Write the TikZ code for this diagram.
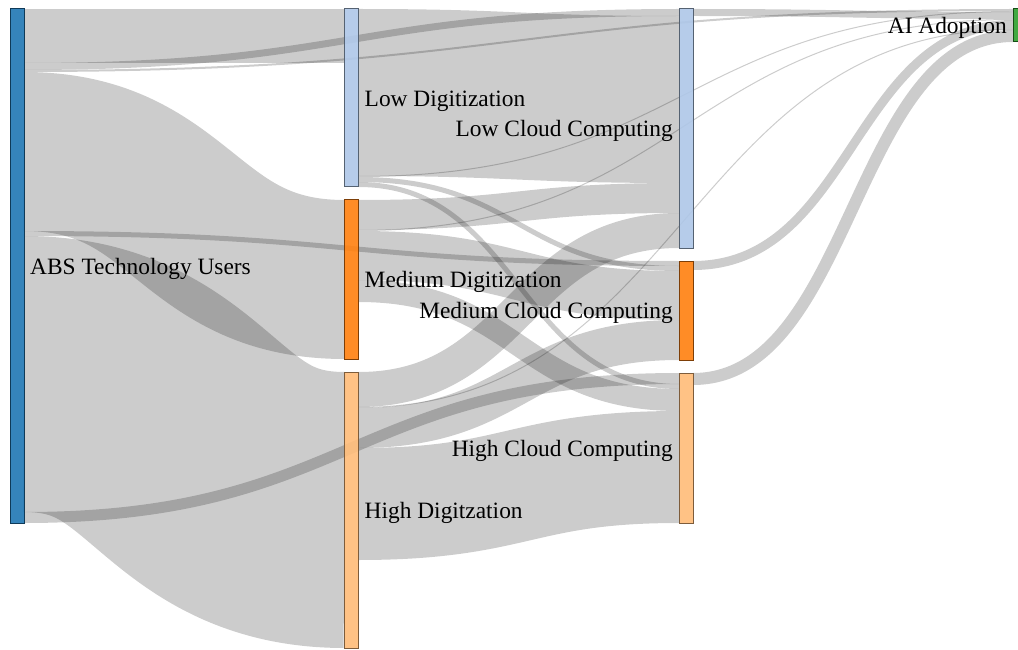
\documentclass[tikz,border=0pt]{standalone}
\usepackage{fontspec}
\setmainfont{Liberation Serif}
\usepackage{color}
\definecolor{absblue}{RGB}{31,119,180}
\definecolor{absbluedark}{RGB}{15,58,88}
\definecolor{lowblue}{RGB}{174,199,232}
\definecolor{lowbluedark}{RGB}{85,98,114}
\definecolor{medorange}{RGB}{255,127,14}
\definecolor{medorangedark}{RGB}{125,62,7}
\definecolor{highorange}{RGB}{255,187,120}
\definecolor{highorangedark}{RGB}{125,92,59}
\definecolor{aigreen}{RGB}{44,160,44}
\definecolor{aigreendark}{RGB}{22,78,22}
\usepackage{tikz}
\usetikzlibrary{calc,positioning,backgrounds}

\begin{document}
\begin{tikzpicture}[
  x=1pt, y=-1pt,
  bar/.style={
    rectangle,
    draw=#1dark,
    fill=#1,
    fill opacity=0.9,
    line width=1pt,
    inner sep=0pt,
    outer sep=0pt,
    minimum width=14pt,
    anchor=north west
    },
  flow/.style={
    draw=black,
    draw opacity=0.2,
    line width=#1*1pt
    },
  lbl/.style={
    font=\fontsize{23.4}{28}\selectfont,
    inner sep=0pt
  }
]
\useasboundingbox (0,0) rectangle (1018,650);
\clip (0,0) rectangle (1018,650);

% nodes: name / colour / x / top / height
\foreach \nd/\col/\nx/\ny/\nh in {
    abs/absblue/10/9/514,
    lowd/lowblue/344.5/9/178,
    medd/medorange/344.5/200/159,
    highd/highorange/344.5/372/276,
    lowc/lowblue/679/9/239,
    medc/medorange/679/261/99,
    highc/highorange/679/373/150,
    ai/aigreen/1013/9/33}
  \node[bar=\col, minimum height=\nh*1pt] (\nd) at (\nx,\ny) {};

\foreach \nd/\txt in {abs/ABS Technology Users, lowd/Low Digitization,
    medd/Medium Digitization, highd/High Digitzation}
  \node[lbl, anchor=base west] (\nd-label) at ([xshift=6pt, yshift=-8.2pt]\nd.east) {\txt};
\foreach \nd/\txt in {lowc/Low Cloud Computing, medc/Medium Cloud Computing,
    highc/High Cloud Computing, ai/AI Adoption}
  \node[lbl, anchor=base east] (\nd-label) at ([xshift=-6pt, yshift=-8.2pt]\nd.west) {\txt};

% links: source / offset / target / offset / width
\begin{scope}[on background layer]
\foreach \src/\srcoff/\tgt/\tgtoff/\flowwd in {
    abs/27/lowd/27/54,
    abs/57.5/lowc/3.5/7,
    abs/62/ai/1/2,
    abs/142.5/medd/79.5/159,
    abs/224.5/medc/2.5/5,
    abs/365/highd/138/276,
    abs/508.5/highc/5.5/11,
    lowd/83.5/lowc/90.5/167,
    lowd/167.5/ai/2.5/1,
    lowd/170.5/medc/7.5/5,
    lowd/175.5/highc/13.5/5,
    medd/15/lowc/189/30,
    medd/30.5/ai/10.5/1,
    medd/55.5/medc/34.5/49,
    medd/91/highc/27/22,
    highd/17.5/lowc/221.5/35,
    highd/35.5/ai/20.5/1,
    highd/56/medc/79/40,
    highd/132/highc/94/112,
    lowc/3.5/ai/6.5/7,
    medc/4.5/ai/15.5/9,
    highc/6/ai/27/12}
  \draw[flow=\flowwd]
    let \p1=([yshift=-\srcoff*1pt]\src.north east),
        \p2=([yshift=-\tgtoff*1pt]\tgt.north west) in
    (\p1) .. controls ({(\x1+\x2)/2},\y1) and ({(\x1+\x2)/2},\y2) .. (\p2);
\end{scope}
\end{tikzpicture}
\end{document}
